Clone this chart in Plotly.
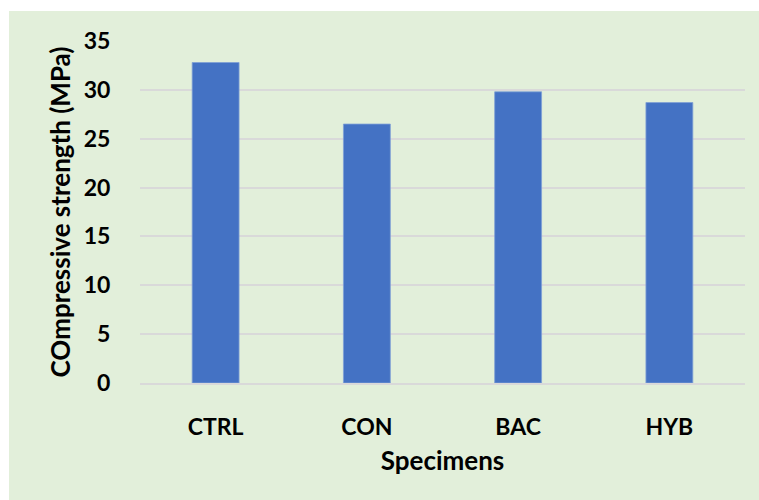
import plotly.graph_objects as go

# Compressive strength per specimen group
specimens = ["CTRL", "CON", "BAC", "HYB"]
strength_mpa = [32.8, 26.5, 29.8, 28.7]
y_ticks = [0, 5, 10, 15, 20, 25, 30, 35]

GREEN = "#E2EFDA"
BLUE = "#4472C4"
GRID = "#D9D9D9"
FONT = "Lato"

fig = go.Figure(
    go.Bar(
        x=specimens,
        y=strength_mpa,
        marker=dict(color=BLUE, line=dict(color="#7F9FD6", width=0.8)),
        width=0.31,
    )
)

# plot area spans x 140..745, y 41..383 px of the 759x500 page
L, R, T, B = 140, 14, 41, 117
W, H = 759, 500
pw, ph = W - L - R, H - T - B

fig.add_shape(
    type="rect", xref="paper", yref="paper", layer="below",
    x0=(9 - L) / pw, x1=(W + 5 - L) / pw,
    y0=-(B + 5) / ph, y1=(H - B - 11) / ph,
    fillcolor=GREEN, line=dict(width=0),
)

fig.update_layout(
    width=W, height=H,
    margin=dict(l=L, r=R, t=T, b=B, pad=0),
    paper_bgcolor="white",
    plot_bgcolor="rgba(0,0,0,0)",
    showlegend=False,
    bargap=0.69,
    font=dict(family=FONT, color="black", size=23),
)

fig.update_xaxes(
    showgrid=False,
    showline=True, linecolor=GRID, linewidth=2,
    ticks="outside", ticklen=22, tickcolor="rgba(0,0,0,0)",
    tickfont=dict(family=FONT, size=23, color="black", weight="bold"),
    title=dict(text="Specimens", standoff=13,
               font=dict(family=FONT, size=26, color="black", weight="bold")),
    automargin=False,
)

fig.update_yaxes(
    range=[0, 35],
    tickvals=y_ticks,
    showgrid=True, gridcolor=GRID, gridwidth=1.6,
    zeroline=False,
    ticks="outside", ticklen=24, tickcolor="rgba(0,0,0,0)",
    tickfont=dict(family=FONT, size=23, color="black", weight="bold"),
    title=dict(text="COmpressive strength (MPa)", standoff=5,
               font=dict(family=FONT, size=26, color="black", weight="bold")),
    automargin=False,
)

fig.write_html("out.html")
